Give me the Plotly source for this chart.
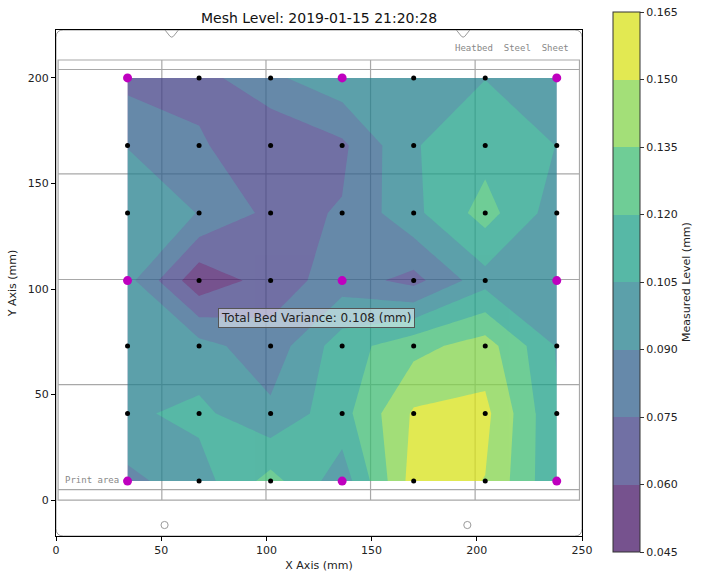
import plotly.graph_objects as go

# ---------------- data ----------------
x_mm = [34, 68, 102, 136, 170, 204, 238]
y_mm = [9, 41, 73, 104, 136, 168, 200]

# measured level (mm), one list per probe row, from y=9 up to y=200
z_row_9 = [0.086, 0.0987, 0.1255, 0.0964, 0.157, 0.1496, 0.107]
z_row_41 = [0.1026, 0.1086, 0.0933, 0.1145, 0.152, 0.154, 0.106]
z_row_73 = [0.098, 0.0955, 0.081, 0.113, 0.130, 0.142, 0.104]
z_row_104 = [0.095, 0.049, 0.067, 0.0825, 0.070, 0.0993, 0.097]
z_row_136 = [0.100, 0.0895, 0.071, 0.076, 0.1013, 0.126, 0.0974]
z_row_168 = [0.0895, 0.0775, 0.0605, 0.072, 0.104, 0.114, 0.1048]
z_row_200 = [0.070, 0.069, 0.087, 0.100, 0.100, 0.1047, 0.098]
z_grid = [z_row_9, z_row_41, z_row_73, z_row_104, z_row_136, z_row_168, z_row_200]

# 3x3 reference probe points (column / row indices)
probe_cols = [0, 3, 6]
probe_rows = [0, 3, 6]

level_start, level_end, level_step = 0.045, 0.165, 0.015
level_ticks = [0.045, 0.060, 0.075, 0.090, 0.105, 0.120, 0.135, 0.150, 0.165]
x_ticks = [0, 50, 100, 150, 200, 250]
y_ticks = [0, 50, 100, 150, 200]

title_text = "Mesh Level: 2019-01-15 21:20:28"

# ---------------- styling ----------------
band_colors = ["#481868", "#424086", "#33628d", "#26818e",
               "#1fa088", "#3fbc73", "#84d44b", "#d8e219"]
alpha = 0.75


def blend(hexc, a):
    r, g, b = int(hexc[1:3], 16), int(hexc[3:5], 16), int(hexc[5:7], 16)
    f = lambda c: int(round(c * a + 255 * (1 - a)))
    return "rgb(%d,%d,%d)" % (f(r), f(g), f(b))


nb = len(band_colors)
# contour colourscale: band k is sampled at s=(k+1)/(nb+1)
cont_scale = [[0.0, band_colors[0]]]
for k, c in enumerate(band_colors):
    cont_scale.append([(k + 1) / (nb + 1), c])
cont_scale.append([1.0, band_colors[-1]])

# stepped colourscale for the colour bar (colours pre-blended with white)
cb_scale = []
for k, c in enumerate(band_colors):
    bc = blend(c, alpha)
    cb_scale.append([k / nb, bc])
    cb_scale.append([(k + 1) / nb, bc])

font_family = "DejaVu Sans"

fig = go.Figure()

fig.add_trace(go.Contour(
    x=x_mm, y=y_mm, z=z_grid,
    autocontour=False,
    contours=dict(start=level_start, end=level_end, size=level_step,
                  coloring="fill", showlines=False),
    colorscale=cont_scale,
    line=dict(width=0, smoothing=0),
    opacity=alpha,
    showscale=False,
    hoverinfo="skip",
))

# probe points
bx, by, mx, my = [], [], [], []
for j, yv in enumerate(y_mm):
    for i, xv in enumerate(x_mm):
        if i in probe_cols and j in probe_rows:
            mx.append(xv)
            my.append(yv)
        else:
            bx.append(xv)
            by.append(yv)

fig.add_trace(go.Scatter(x=bx, y=by, mode="markers",
                         marker=dict(color="black", size=5),
                         showlegend=False, hoverinfo="skip"))
fig.add_trace(go.Scatter(x=mx, y=my, mode="markers",
                         marker=dict(color="#bf00bf", size=9),
                         showlegend=False, hoverinfo="skip"))

# colour bar (dummy trace)
fig.add_trace(go.Scatter(
    x=[None, None], y=[None, None], mode="markers", showlegend=False,
    hoverinfo="skip",
    marker=dict(color=[level_start, level_end], cmin=level_start, cmax=level_end,
                colorscale=cb_scale, showscale=True,
                colorbar=dict(
                    x=1.04, xanchor="left", y=(536 - 282) / 506, yanchor="middle",
                    len=540, lenmode="pixels", thickness=27, ypad=0,
                    outlinewidth=1, outlinecolor="#333",
                    tickvals=level_ticks,
                    ticktext=["%.3f" % v for v in level_ticks],
                    ticks="outside", ticklen=4, tickcolor="#333",
                    tickfont=dict(size=11, family=font_family, color="#222"),
                    title=dict(text="Measured Level (mm)", side="right",
                               font=dict(size=11, family=font_family, color="#222")),
                ))))

# ---------------- heatbed sheet drawing (background) ----------------
shapes = []
gray = "#9a9a9a"
x0, x1, y0, y1 = 0.0, 250.0, -17.0, 222.7
r = 3.5
outline = (f"M {x0 + r},{y0} L {x1 - r},{y0} Q {x1},{y0} {x1},{y0 + r} "
           f"L {x1},{y1 - r} Q {x1},{y1} {x1 - r},{y1} L {x0 + r},{y1} "
           f"Q {x0},{y1} {x0},{y1 - r} L {x0},{y0 + r} Q {x0},{y0} {x0 + r},{y0} Z")
shapes.append(dict(type="path", path=outline, xref="x", yref="y",
                   line=dict(color=gray, width=1), layer="below"))
for nx in (55.0, 193.5):
    notch = (f"M {nx - 3.2},{y1} L {nx - 0.8},{y1 - 3.0} Q {nx},{y1 - 3.8} "
             f"{nx + 0.8},{y1 - 3.0} L {nx + 3.2},{y1}")
    shapes.append(dict(type="path", path=notch, xref="x", yref="y",
                       line=dict(color=gray, width=1), layer="below"))

pa_x0, pa_x1, pa_y0, pa_y1 = 1.0, 248.8, 0.0, 208.5
grid_col = "#a8a8a8"
shapes.append(dict(type="rect", x0=pa_x0, x1=pa_x1, y0=pa_y0, y1=pa_y1,
                   xref="x", yref="y", line=dict(color=grid_col, width=1.2),
                   layer="below"))
for hy in (204.0, 154.5, 104.5, 54.7, 5.0):
    shapes.append(dict(type="line", x0=pa_x0, x1=pa_x1, y0=hy, y1=hy,
                       xref="x", yref="y", line=dict(color=grid_col, width=1.2),
                       layer="below"))
for vx in (50.3, 99.8, 149.5, 199.2):
    shapes.append(dict(type="line", x0=vx, x1=vx, y0=pa_y0, y1=pa_y1,
                       xref="x", yref="y", line=dict(color=grid_col, width=1.2),
                       layer="below"))
for cx in (51.6, 195.5):
    shapes.append(dict(type="circle", x0=cx - 1.7, x1=cx + 1.7, y0=-11.8 - 1.7,
                       y1=-11.8 + 1.7, xref="x", yref="y",
                       line=dict(color=gray, width=1), layer="below"))

variance = max(max(r_) for r_ in z_grid) - min(min(r_) for r_ in z_grid)

annotations = [
    dict(x=216.5, y=214.2, xref="x", yref="y", text="Heatbed  Steel  Sheet",
         showarrow=False, font=dict(family="DejaVu Sans Mono", size=9, color="#888")),
    dict(x=17.0, y=9.5, xref="x", yref="y", text="Print area",
         showarrow=False, font=dict(family="DejaVu Sans Mono", size=9, color="#888")),
    dict(x=123.8, y=86.3, xref="x", yref="y",
         text="Total Bed Variance: %.3f (mm)" % variance, showarrow=False,
         font=dict(family=font_family, size=12, color="#222"),
         bgcolor="rgba(255,255,255,0.5)", bordercolor="#555", borderwidth=1,
         borderpad=2),
]

axis_common = dict(showline=True, linecolor="black", linewidth=1, mirror=True,
                   ticks="outside", ticklen=4, tickcolor="black",
                   showgrid=False, zeroline=False,
                   tickfont=dict(size=11, family=font_family, color="#222"))

fig.update_layout(
    width=705, height=579,
    margin=dict(l=56, r=123, t=30, b=43, autoexpand=False),
    paper_bgcolor="white", plot_bgcolor="white",
    title=dict(text=title_text, x=0.5, xref="paper", y=0.969, yref="container",
               yanchor="middle", xanchor="center",
               font=dict(size=14, family=font_family, color="#111")),
    xaxis=dict(range=[0, 250], tickvals=x_ticks, **axis_common,
               title=dict(text="X Axis (mm)", standoff=5,
                          font=dict(size=11, family=font_family, color="#222"))),
    yaxis=dict(range=[y0, y1], tickvals=y_ticks, **axis_common,
               title=dict(text="Y Axis (mm)", standoff=8,
                          font=dict(size=11, family=font_family, color="#222"))),
    shapes=shapes,
    annotations=annotations,
    showlegend=False,
)

fig.write_html("out.html")
